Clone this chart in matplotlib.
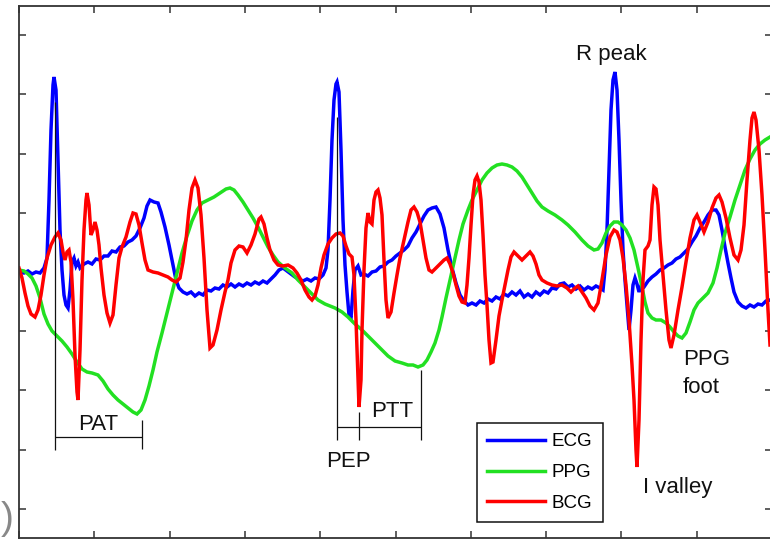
import numpy as np
import matplotlib
matplotlib.use('Agg')
import matplotlib.pyplot as plt

# ------------------------------------------------------------------------
# signals (time in samples, amplitude in a.u.)
ecg_t = [19, 24, 28, 32, 36, 40, 44, 47, 49, 51, 53, 54, 56, 58, 60, 62, 64, 66, 68, 70,
         72, 74, 76, 78, 80, 84, 88, 92, 96, 100, 104, 108, 112, 116, 120, 124, 128, 132, 136, 140,
         144, 147, 150, 154, 158, 161, 165, 169, 172, 176, 179, 183, 187, 191, 195, 199, 203, 207, 211, 215,
         219, 223, 227, 231, 235, 239, 243, 247, 251, 255, 259, 263, 267, 271, 275, 279, 283, 287, 291, 295,
         299, 303, 307, 311, 315, 319, 323, 326, 328, 330, 332, 334, 336, 337, 339, 341, 343, 345, 347, 349,
         351, 353, 355, 358, 361, 364, 368, 372, 376, 380, 384, 388, 392, 396, 400, 404, 408, 412, 416, 420,
         424, 428, 432, 436, 440, 444, 448, 452, 456, 460, 464, 468, 472, 476, 480, 484, 488, 492, 496, 500,
         504, 508, 512, 516, 520, 524, 528, 532, 536, 540, 544, 548, 552, 556, 560, 564, 568, 572, 576, 580,
         584, 588, 592, 596, 600, 603, 605, 607, 609, 611, 613, 615, 617, 619, 621, 623, 625, 627, 629, 631,
         633, 635, 637, 639, 641, 644, 648, 652, 656, 660, 664, 668, 672, 676, 680, 684, 688, 692, 696, 700,
         704, 708, 712, 716, 719, 722, 725, 728, 731, 734, 738, 742, 746, 750, 754, 758, 762, 766, 770]
ecg_v = [0, -1, 1, -2, 0, -1, 4, 14, 72, 142, 187, 195, 182, 112, 42, 2, -23, -33, -36, -18,
         10, 14, 6, 10, 4, 8, 10, 8, 13, 12, 16, 16, 21, 20, 25, 26, 30, 32, 36, 44,
         54, 66, 72, 70, 69, 60, 45, 27, 12, -8, -16, -20, -22, -20, -24, -21, -23, -18, -19, -16,
         -17, -13, -15, -12, -15, -12, -14, -11, -13, -10, -12, -9, -11, -7, -3, 2, 4, 1, -2, -5,
         -7, -9, -7, -9, -6, -7, -3, 4, 22, 72, 132, 172, 188, 190, 180, 122, 52, 7, -20, -43,
         -46, -18, 2, 6, -3, -2, -4, 0, 1, 5, 6, 10, 12, 16, 19, 22, 26, 34, 40, 48,
         56, 62, 64, 65, 58, 44, 22, 4, -11, -23, -29, -33, -31, -33, -29, -31, -27, -29, -25, -27,
         -22, -24, -20, -23, -19, -25, -22, -25, -20, -23, -19, -21, -16, -17, -12, -11, -15, -13, -17, -14,
         -18, -15, -17, -14, -16, -18, 2, 42, 102, 162, 192, 200, 182, 132, 72, 22, -8, -33, -58, -38,
         -13, -6, -12, -20, -14, -15, -9, -5, -2, 2, 4, 7, 9, 13, 15, 19, 23, 30, 36, 44,
         50, 57, 62, 62, 57, 42, 25, 9, -6, -20, -30, -34, -36, -33, -35, -32, -33, -29, -28]

ppg_t = [19, 24, 28, 32, 36, 40, 44, 48, 52, 57, 62, 67, 72, 77, 82, 87, 92, 98, 103, 108,
         113, 118, 123, 128, 133, 137, 141, 145, 149, 153, 157, 162, 167, 172, 177, 182, 187, 192, 197, 202,
         208, 214, 220, 226, 230, 234, 238, 243, 248, 253, 258, 263, 268, 273, 278, 285, 292, 298, 305, 312,
         318, 325, 335, 342, 348, 355, 362, 369, 375, 382, 388, 395, 402, 408, 413, 418, 423, 427, 431, 435,
         439, 442, 446, 450, 455, 459, 463, 468, 472, 477, 482, 487, 492, 497, 502, 507, 512, 517, 522, 527,
         532, 537, 542, 548, 555, 562, 568, 575, 582, 588, 594, 598, 602, 606, 610, 614, 618, 622, 626, 630,
         634, 638, 642, 645, 648, 652, 656, 661, 666, 670, 674, 678, 682, 686, 690, 694, 698, 703, 708, 713,
         717, 721, 725, 730, 735, 740, 745, 750, 755, 760, 765, 770]
ppg_v = [2, 1, -2, -6, -14, -26, -42, -52, -59, -64, -69, -75, -82, -90, -97, -100, -101, -103, -109, -117,
         -123, -128, -132, -136, -140, -142, -138, -128, -114, -98, -80, -61, -41, -21, -1, 19, 36, 51, 62, 69,
         72, 75, 79, 83, 84, 82, 77, 70, 62, 54, 45, 35, 25, 17, 10, 4, -1, -8, -15, -22,
         -28, -32, -36, -40, -45, -52, -58, -65, -71, -78, -84, -89, -91, -93, -93, -95, -93, -88, -80, -71,
         -58, -45, -26, -8, 15, 32, 48, 62, 72, 82, 92, 99, 104, 107, 108, 107, 105, 101, 95, 87,
         79, 71, 65, 61, 57, 52, 47, 40, 32, 26, 22, 23, 29, 39, 46, 50, 50, 47, 42, 34,
         22, 4, -15, -30, -41, -46, -48, -48, -51, -55, -60, -64, -66, -61, -50, -38, -31, -26, -21, -11,
         4, 22, 39, 55, 72, 87, 102, 113, 122, 128, 132, 135]

bcg_t = [19, 22, 25, 28, 31, 35, 38, 41, 44, 47, 51, 55, 58, 61, 63, 65, 67, 69, 71, 73,
         75, 77, 78, 80, 82, 84, 86, 87, 89, 91, 93, 95, 97, 99, 101, 104, 107, 110, 113, 116,
         119, 122, 126, 130, 133, 136, 139, 142, 145, 148, 153, 158, 163, 168, 172, 176, 180, 183, 186, 189,
         192, 195, 198, 201, 204, 207, 210, 213, 217, 221, 225, 228, 231, 235, 239, 243, 247, 251, 255, 259,
         261, 264, 267, 270, 274, 278, 283, 288, 293, 297, 301, 305, 309, 312, 315, 318, 321, 324, 328, 332,
         336, 340, 343, 346, 349, 352, 354, 356, 358, 359, 361, 362, 364, 366, 368, 370, 372, 374, 376, 378,
         380, 382, 384, 386, 388, 391, 394, 397, 400, 404, 408, 411, 414, 417, 420, 423, 426, 429, 432, 436,
         440, 444, 447, 450, 453, 456, 459, 462, 465, 467, 469, 471, 473, 475, 477, 479, 481, 483, 485, 487,
         489, 491, 493, 496, 499, 502, 505, 508, 511, 514, 518, 522, 526, 530, 533, 536, 539, 542, 547, 552,
         557, 562, 567, 571, 575, 578, 582, 586, 590, 594, 598, 602, 606, 610, 614, 617, 620, 623, 626, 629,
         632, 634, 636, 637, 639, 641, 643, 645, 648, 650, 652, 654, 656, 658, 660, 663, 666, 669, 671, 674,
         678, 682, 686, 690, 694, 697, 700, 704, 708, 712, 716, 719, 722, 726, 730, 734, 738, 741, 744, 747,
         750, 752, 754, 756, 759, 762, 765, 768, 770]
bcg_v = [4, -6, -21, -34, -42, -45, -38, -23, -3, 14, 27, 35, 39, 32, 20, 12, 20, 22, 10, -28,
         -83, -120, -128, -78, -8, 42, 72, 79, 67, 37, 42, 50, 42, 27, 4, -23, -41, -51, -43, -13,
         14, 25, 35, 50, 59, 58, 47, 29, 12, 2, 0, -1, -3, -5, -8, -10, -6, 10, 32, 62,
         84, 92, 84, 57, 14, -38, -76, -73, -58, -38, -20, -8, 9, 22, 26, 25, 19, 27, 38, 53,
         55, 48, 34, 22, 12, 7, 6, 7, 4, -1, -8, -18, -25, -28, -24, -13, 4, 17, 28, 34,
         38, 39, 36, 26, 18, 15, -3, -48, -108, -135, -108, -58, 2, 44, 59, 50, 48, 72, 80, 82,
         74, 57, 12, -28, -46, -40, -21, -3, 14, 32, 50, 62, 65, 60, 50, 32, 14, 2, 0, 4,
         8, 12, 14, 8, -1, -13, -24, -30, -31, -13, 14, 47, 77, 92, 96, 90, 72, 37, -3, -33,
         -68, -91, -90, -68, -44, -28, -13, 2, 15, 20, 16, 12, 16, 20, 16, 8, -3, -8, -11, -13,
         -14, -13, -16, -20, -16, -14, -20, -26, -34, -38, -31, -8, 17, 35, 42, 40, 32, 14, -13, -48,
         -93, -128, -178, -195, -148, -68, -8, 22, 26, 32, 67, 85, 83, 67, 32, -3, -38, -68, -76, -63,
         -38, -15, 10, 34, 52, 57, 50, 40, 50, 64, 74, 77, 70, 54, 34, 17, 12, 22, 47, 92,
         132, 154, 160, 152, 122, 77, 22, -38, -73]

series_names = ['ECG', 'PPG', 'BCG']
series_colors = ['#0000ff', '#22e022', '#ff0000']

# event times (samples) used for the interval brackets
r_peak_1, ppg_foot_1 = 55, 142
r_peak_2, ao_open_2, ppg_foot_2 = 337, 359, 421

fig = plt.figure(figsize=(7.7, 5.39), dpi=100)
ax = fig.add_axes([19 / 770, 1 / 539, 753 / 770, 532 / 539])

for t, v, name, col in zip([ecg_t, ppg_t, bcg_t], [ecg_v, ppg_v, bcg_v], series_names, series_colors):
    ax.plot(t, v, color=col, lw=2.5, label=name, solid_joinstyle='miter')

# interval brackets
kw = dict(color='#111111', lw=0.9, zorder=5)
ax.vlines(r_peak_1, -178, 170, **kw)
ax.vlines(ppg_foot_1, -177, -148, **kw)
ax.hlines(-165, r_peak_1, ppg_foot_1, **kw)
ax.vlines(r_peak_2, -168, 155, **kw)
ax.vlines(ao_open_2, -168, -140, **kw)
ax.vlines(ppg_foot_2, -168, -98, **kw)
ax.hlines(-155, r_peak_2, ppg_foot_2, **kw)

tk = dict(fontsize=16, color='#111111', family='Liberation Sans')
ax.text(98, -158, 'PAT', ha='center', va='baseline', **tk)
ax.text(392, -145, 'PTT', ha='center', va='baseline', **tk)
ax.text(348, -195, 'PEP', ha='center', va='baseline', **tk)
ax.text(611, 212, 'R peak', ha='center', va='baseline', **tk)
ax.text(683, -93, 'PPG', ha='left', va='baseline', **tk)
ax.text(683, -121, 'foot', ha='left', va='baseline', **tk)
ax.text(643, -221, 'I valley', ha='left', va='baseline', **tk)

leg = ax.legend(loc='lower left', bbox_to_anchor=(0.608, 0.030), borderaxespad=0,
                fancybox=False, edgecolor='#111111', framealpha=1,
                prop=dict(family='Liberation Sans', size=13.5),
                handlelength=3.1, handletextpad=0.35, labelspacing=0.72, borderpad=0.55)
leg.get_frame().set_linewidth(1.1)

ax.set_xlim(19, 772)
ax.set_ylim(-266, 266)
ax.set_xticks(np.linspace(19, 772, 11))
ax.set_yticks(np.arange(-4, 5) * 59.2)
ax.tick_params(direction='in', length=5, width=1.1, color='#333333',
               top=True, right=True, labelbottom=False, labelleft=False)
for s in ax.spines.values():
    s.set_linewidth(1.3)
    s.set_color('#333333')

fig.text(0.001, 0.037, ')', fontsize=28, color='#888888', ha='left', va='center',
         family='Liberation Sans')

fig.savefig('out.png', dpi=100)
